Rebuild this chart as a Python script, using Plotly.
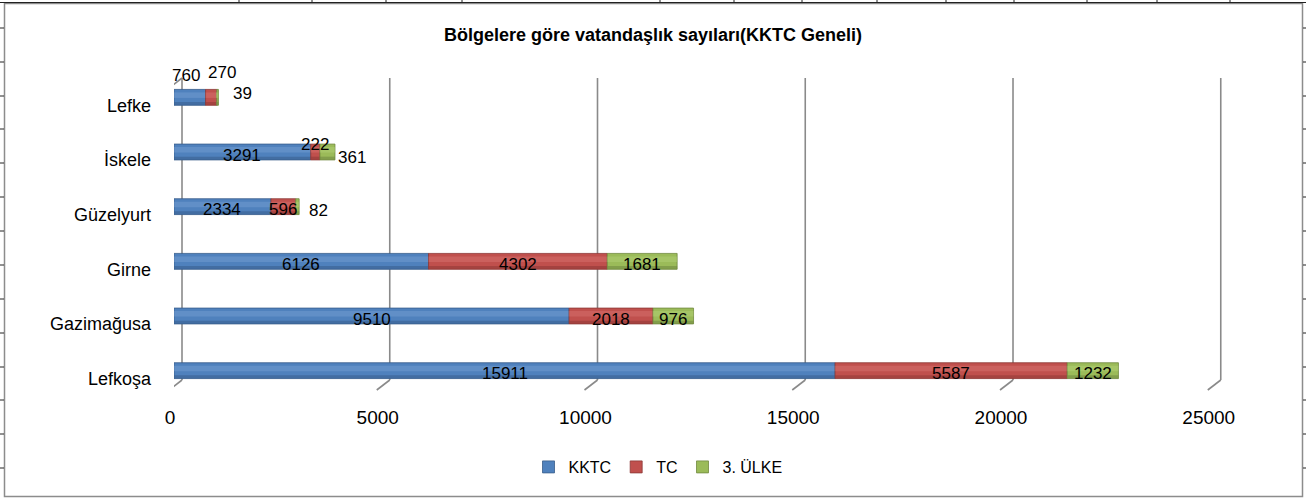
import plotly.graph_objects as go

# ---- data ----
categories = ["Lefkoşa", "Gazimağusa", "Girne", "Güzelyurt", "İskele", "Lefke"]
series_names = ["KKTC", "TC", "3. ÜLKE"]
kktc = [15911, 9510, 6126, 2334, 3291, 760]
tc = [5587, 2018, 4302, 596, 222, 270]
ulke3 = [1232, 976, 1681, 82, 361, 39]
x_ticks = [0, 5000, 10000, 15000, 20000, 25000]
x_tick_labels = ["0", "5000", "10000", "15000", "20000", "25000"]

# ---- style ----
colors = ["#4F81BD", "#C0504D", "#9BBB59"]
light_colors = ["#7EA5D8", "#DC7A77", "#B8D67E"]
dark_colors = ["#3A6091", "#923A38", "#728B42"]
edge_colors = ["#385D8A", "#8C3836", "#71893F"]
FONT = "Liberation Sans, Arial, sans-serif"
W, H = 1306, 499
L, R, T, B = 174, 76, 70, 101
PW, PH = W - L - R, H - T - B
X_MAX = 25415
BAR_W = 0.29

def px_x(px):
    return (px - L) / PW

def px_y(py):
    return (H - B - py) / PH

# label pixel shifts (xshift, yshift) for labels Excel moved off-centre
label_shift = {
    ("Lefke", 0): (-4, 22), ("Lefke", 1): (11, 25), ("Lefke", 2): (25, 4),
    ("İskele", 1): (0, 8), ("İskele", 2): (25, -5),
    ("Güzelyurt", 2): (21, -4),
}

values = [kktc, tc, ulke3]
bases = []
run = [0] * len(categories)
for vals in values:
    bases.append(list(run))
    run = [a + b for a, b in zip(run, vals)]

fig = go.Figure()
for name, vals, base, c, lc, dc, ec in zip(series_names, values, bases, colors,
                                          light_colors, dark_colors, edge_colors):
    fig.add_trace(go.Bar(
        y=categories, x=vals, base=base, name=name, orientation="h",
        marker=dict(color=c, line=dict(color=ec, width=0.8)),
        width=BAR_W, offset=-BAR_W / 2, hoverinfo="x+name",
    ))
    # cylinder shading: light band and dark lower band
    fig.add_trace(go.Bar(
        y=categories, x=vals, base=base, orientation="h", showlegend=False,
        marker=dict(color=lc, line=dict(width=0)), opacity=0.4,
        width=0.1, offset=-0.01, hoverinfo="skip",
    ))
    fig.add_trace(go.Bar(
        y=categories, x=vals, base=base, orientation="h", showlegend=False,
        marker=dict(color=dc, line=dict(width=0)), opacity=0.6,
        width=0.06, offset=-BAR_W / 2, hoverinfo="skip",
    ))

annotations = []
for ci, cat in enumerate(categories):
    for si, vals in enumerate(values):
        v = vals[ci]
        xs, ys = label_shift.get((cat, si), (0, -3))
        annotations.append(dict(
            x=bases[si][ci] + v / 2, y=cat, xref="x", yref="y", text=str(v),
            showarrow=False, xshift=xs, yshift=ys,
            font=dict(family=FONT, size=17, color="#000"),
        ))

shapes = []
grey = "#8A8A8A"
y_top, y_back, y_front = px_y(78), px_y(380), px_y(390)
for t in x_ticks:
    shapes.append(dict(type="line", xref="x", xsizemode="pixel", xanchor=t,
                       x0=8, x1=8, yref="paper", y0=y_back, y1=y_top,
                       line=dict(color=grey, width=1.6), layer="below"))
    shapes.append(dict(type="line", xref="x", xsizemode="pixel", xanchor=t,
                       x0=8, x1=-5, yref="paper", y0=y_back, y1=y_front,
                       line=dict(color=grey, width=1.6), layer="below"))
# side wall at zero
shapes.append(dict(type="line", xref="x", xsizemode="pixel", xanchor=0,
                   x0=-5, x1=-5, yref="paper", y0=y_front, y1=px_y(88),
                   line=dict(color=grey, width=1.6), layer="below"))
shapes.append(dict(type="line", xref="x", xsizemode="pixel", xanchor=0,
                   x0=-5, x1=8, yref="paper", y0=px_y(88), y1=y_top,
                   line=dict(color=grey, width=1.6), layer="below"))

# chart border
shapes.append(dict(type="rect", xref="paper", yref="paper",
                   x0=px_x(4.5), x1=px_x(1302.5), y0=px_y(496.5), y1=px_y(3.5),
                   line=dict(color="#8C8C8C", width=1.5), layer="below"))
# surrounding spreadsheet grid
shapes.append(dict(type="line", xref="paper", yref="paper",
                   x0=px_x(0), x1=px_x(1306), y0=px_y(2.5), y1=px_y(2.5),
                   line=dict(color="#222", width=1)))
for gx in [239, 312, 386, 462, 660, 734, 802, 877, 946, 1014, 1087, 1157, 1230]:
    shapes.append(dict(type="line", xref="paper", yref="paper",
                       x0=px_x(gx), x1=px_x(gx), y0=px_y(0), y1=px_y(3),
                       line=dict(color="#222", width=1)))
for gy in [28, 62, 96, 129, 163, 197, 231, 265, 299, 333, 367, 400, 434, 468]:
    shapes.append(dict(type="line", xref="paper", yref="paper",
                       x0=px_x(0), x1=px_x(4), y0=px_y(gy), y1=px_y(gy),
                       line=dict(color="#222", width=1)))
    shapes.append(dict(type="line", xref="paper", yref="paper",
                       x0=px_x(1303), x1=px_x(1306), y0=px_y(gy), y1=px_y(gy),
                       line=dict(color="#222", width=1)))

fig.update_layout(
    width=W, height=H, barmode="overlay",
    margin=dict(l=L, r=R, t=T, b=B, autoexpand=False),
    paper_bgcolor="white", plot_bgcolor="white",
    title=dict(text="<b>Bölgelere göre vatandaşlık sayıları(KKTC Geneli)</b>",
               x=0.5, xanchor="center", y=1 - 35 / H, yanchor="middle",
               font=dict(family=FONT, size=18, color="#000")),
    xaxis=dict(range=[0, X_MAX], tickvals=x_ticks, ticktext=x_tick_labels,
               showgrid=False, zeroline=False, showline=False, automargin=False,
               tickfont=dict(family=FONT, size=19, color="#000"),
               ticklabelshift=-4, ticklabelstandoff=6),
    yaxis=dict(categoryorder="array", categoryarray=categories,
               range=[-0.5, 5.5], showgrid=False, zeroline=False,
               showline=False, automargin=False,
               tickfont=dict(family=FONT, size=18, color="#000"),
               ticklabelshift=8, ticklabelstandoff=22),
    legend=dict(orientation="h", xref="container", x=658 / W, xanchor="center",
                y=px_y(467), yanchor="middle",
                font=dict(family=FONT, size=16, color="#000"),
                traceorder="normal"),
    shapes=shapes, annotations=annotations,
)

fig.write_html("out.html", post_script="document.body.style.margin='0';",
               config={"displayModeBar": False})
